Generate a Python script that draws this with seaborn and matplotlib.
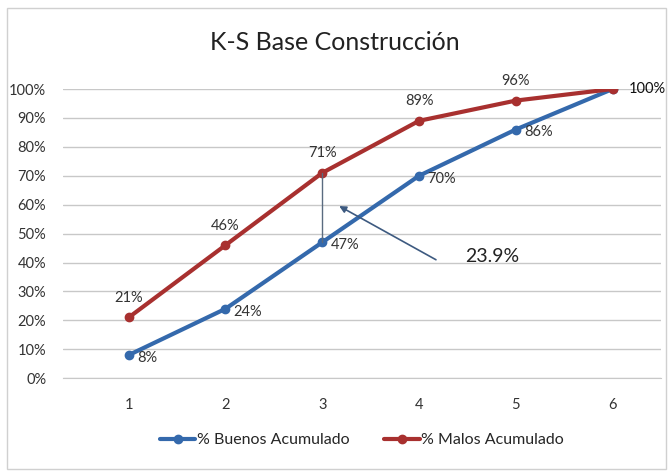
import pandas as pd
import matplotlib.pyplot as plt
import seaborn as sns
from matplotlib.patches import Rectangle

grupos = [1, 2, 3, 4, 5, 6]
buenos = [0.08, 0.24, 0.47, 0.70, 0.86, 1.00]
malos = [0.21, 0.46, 0.71, 0.89, 0.96, 1.00]
serie_buenos = "% Buenos Acumulado"
serie_malos = "% Malos Acumulado"
ks_texto = "23.9%"

df = pd.DataFrame({
    "grupo": grupos * 2,
    "valor": buenos + malos,
    "serie": [serie_buenos] * len(grupos) + [serie_malos] * len(grupos),
})

sns.set_style("white")
plt.rcParams["font.family"] = ["Lato", "DejaVu Sans"]

azul = "#3469ac"
rojo = "#a8302f"

fig = plt.figure(figsize=(6.69, 4.71), dpi=100)
ax = fig.add_axes([0.094, 0.197, 0.894, 0.614])

sns.lineplot(data=df, x="grupo", y="valor", hue="serie",
             palette={serie_buenos: azul, serie_malos: rojo},
             marker="o", markersize=6, linewidth=3, markeredgewidth=1,
             ax=ax)
for ln in ax.lines:
    ln.set_markeredgecolor(ln.get_color())

ax.set_xlim(0.32, 6.5)
ax.set_ylim(0, 1.0)
ax.set_yticks([i / 10 for i in range(11)])
ax.set_yticklabels([f"{i * 10}%" for i in range(11)])
ax.set_xticks(grupos)
ax.set_xticklabels([str(g) for g in grupos])
ax.grid(axis="y", color="#c8c8c8", linewidth=1)
for s in ["top", "right", "left"]:
    ax.spines[s].set_visible(False)
ax.spines["bottom"].set_color("#c8c8c8")
ax.tick_params(axis="both", labelsize=10.5, colors="#333333", length=0, pad=12)
ax.tick_params(axis="x", pad=14)
ax.set_xlabel("")
ax.set_ylabel("")

# etiquetas de datos
for x, y in zip(grupos[:-1], malos[:-1]):
    ax.annotate(f"{round(y * 100)}%", (x, y), xytext=(0, 9),
                textcoords="offset points", ha="center", va="bottom",
                fontsize=10.5, color="#333333")
for x, y in zip(grupos[:-1], buenos[:-1]):
    ax.annotate(f"{round(y * 100)}%", (x, y), xytext=(6, -2),
                textcoords="offset points", ha="left", va="center",
                fontsize=10.5, color="#333333")
ax.annotate(f"{round(malos[-1] * 100)}%", (grupos[-1], malos[-1]), xytext=(12, 0),
            textcoords="offset points", ha="left", va="center",
            fontsize=10.5, color="#111111", annotation_clip=False)

# distancia K-S
ax.plot([3, 3], [buenos[2], malos[2]], color="#5a6b80", linewidth=1)
ax.annotate("", xy=(3.15, 0.60), xytext=(4.2, 0.405),
            arrowprops=dict(arrowstyle="-|>", color="#3d5a80", lw=1.2))
ax.text(4.48, 0.42, ks_texto, fontsize=14, color="#222222", ha="left", va="center")

leg = ax.legend(loc="upper center", bbox_to_anchor=(0.5, -0.14), ncol=2,
                frameon=False, fontsize=11.5, handlelength=2.2,
                handletextpad=0.1, columnspacing=2.2)
for h in leg.legend_handles:
    h.set_markeredgecolor(h.get_color())

fig.suptitle("K-S Base Construcción", y=0.935, fontsize=18, color="#222222")

fig.patches.append(Rectangle((0.011, 0.004), 0.985, 0.978, transform=fig.transFigure,
                             fill=False, edgecolor="#d0d0d0", linewidth=1))

fig.savefig("out.png", dpi=100)
